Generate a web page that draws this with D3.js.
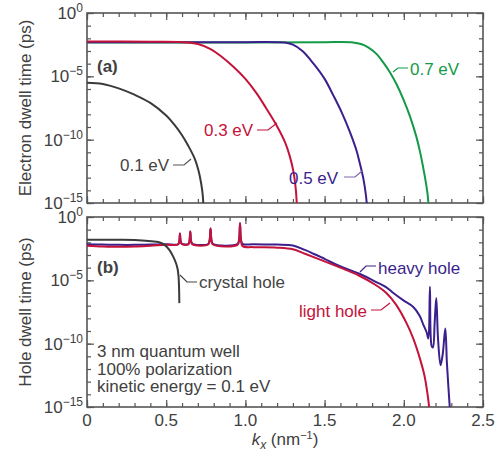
<!DOCTYPE html>
<html>
<head>
<meta charset="utf-8">
<script src="https://cdn.jsdelivr.net/npm/d3@7"></script>
<style>
  body { margin: 0; background: #fff; }
  text { font-family: "Liberation Sans", Arial, sans-serif; fill: #404040; }
</style>
</head>
<body>
<svg id="chart" width="503" height="456"></svg>
<script>
// values are [kx (nm^-1), log10 of dwell time (ps)]
const electron01 = [[0,-5.5],[0.1,-5.6],[0.2,-5.95],[0.3,-6.45],[0.4,-7.1],[0.5,-8.1],[0.55,-8.8],[0.6,-9.65],
  [0.64,-10.5],[0.68,-11.5],[0.703,-12.4],[0.72,-13.4],[0.73,-14.3],[0.734,-15]];
const electron03 = [[0,-2.25],[0.4,-2.27],[0.6,-2.3],[0.7,-2.45],[0.78,-2.85],[0.85,-3.45],[0.924,-4.24],[1.0,-5.2],
  [1.071,-6.35],[1.13,-7.5],[1.198,-8.9],[1.25,-10.2],[1.28,-11.3],[1.303,-12.5],[1.318,-13.9],[1.324,-15]];
const electron05 = [[0,-2.3],[1.0,-2.3],[1.2,-2.3],[1.25,-2.33],[1.3,-2.5],[1.36,-3.0],[1.43,-4.0],[1.5,-5.2],
  [1.555,-6.5],[1.61,-7.9],[1.66,-9.4],[1.7,-10.8],[1.723,-11.9],[1.745,-13.1],[1.76,-14.3],[1.766,-15]];
const electron07 = [[0,-2.32],[1.0,-2.32],[1.5,-2.3],[1.68,-2.32],[1.73,-2.45],[1.78,-2.75],[1.829,-3.25],[1.87,-3.9],
  [1.913,-4.7],[1.955,-5.65],[2.0,-6.9],[2.04,-8.2],[2.08,-9.8],[2.105,-11.1],[2.134,-13.0],[2.15,-14.3],[2.155,-15]];

const crystalHole = [[0,-1.8],[0.2,-1.8],[0.3,-1.82],[0.408,-1.92],[0.45,-1.98],[0.49,-2.2],[0.52,-2.6],[0.545,-3.15],
  [0.562,-3.65],[0.572,-4.1],[0.578,-4.7],[0.581,-5.5],[0.583,-6.8]];
const heavyHole = [[0,-2.16],[0.1,-2.18],[0.2,-2.2],[0.3,-2.2],[0.4,-2.17],[0.5,-2.15],
  [0.575,-2.15],[0.583,-1.9],[0.587,-1.3],[0.591,-1.9],[0.6,-2.12],
  [0.64,-2.13],[0.647,-1.9],[0.652,-1.15],[0.657,-1.9],[0.666,-2.12],
  [0.765,-2.13],[0.774,-1.85],[0.78,-0.9],[0.786,-1.85],[0.795,-2.12],
  [0.95,-2.14],[0.96,-1.8],[0.966,-0.5],[0.972,-1.8],[0.982,-2.12],
  [1.05,-2.16],[1.2,-2.18],[1.3,-2.25],[1.376,-2.6],[1.43,-2.9],[1.5,-3.3],[1.555,-3.65],[1.62,-4.0],
  [1.723,-4.5],[1.82,-5.1],[1.89,-5.55],[1.934,-6.0],[2.0,-6.6],[2.06,-7.1],[2.1,-7.8],[2.123,-8.5],
  [2.144,-9.1],[2.155,-9.6],[2.165,-5.5],[2.176,-10.2],[2.184,-10.3],[2.195,-8.3],[2.205,-6.4],[2.216,-9.6],
  [2.232,-11.7],[2.246,-10.8],[2.262,-8.8],[2.272,-11.5],[2.282,-13.5],[2.29,-15]];
const lightHole = [[0,-2.26],[0.1,-2.32],[0.2,-2.35],[0.3,-2.33],[0.4,-2.27],[0.5,-2.2],
  [0.575,-2.17],[0.583,-1.9],[0.587,-1.3],[0.591,-1.9],[0.6,-2.15],
  [0.64,-2.16],[0.647,-1.9],[0.652,-1.15],[0.657,-1.9],[0.666,-2.16],
  [0.765,-2.17],[0.774,-1.85],[0.78,-0.9],[0.786,-1.85],[0.795,-2.17],
  [0.95,-2.2],[0.96,-1.8],[0.966,-0.5],[0.972,-1.8],[0.982,-2.3],
  [1.05,-2.38],[1.2,-2.42],[1.3,-2.55],[1.376,-2.9],[1.5,-3.5],[1.62,-4.1],[1.713,-4.6],[1.82,-5.35],
  [1.89,-6.0],[1.95,-6.9],[2.018,-8.4],[2.06,-9.6],[2.1,-11.1],[2.13,-12.5],[2.15,-14],[2.16,-15]];

const xTicks = [0, 0.5, 1.0, 1.5, 2.0, 2.5];
const xTickLabels = ["0", "0.5", "1.0", "1.5", "2.0", "2.5"];
const yExponents = [0, -5, -10, -15];
const textBlock = ["3 nm quantum well", "100% polarization", "kinetic energy = 0.1 eV"];

const red = "#c4123a", blue = "#3b1f8c", green = "#139a48", dark = "#3a3a3a", frame = "#555";
const fs = 17;

const svg = d3.select("#chart");
const left = 87, right = 483;
const x = d3.scaleLinear().domain([0, 2.5]).range([left, right]);
const panels = [
  { top: 13, bottom: 203, name: "a" },
  { top: 217, bottom: 407, name: "b" }
];
panels.forEach(p => {
  p.y = d3.scaleLog().domain([1e-15, 1]).range([p.bottom, p.top]);
});

const line = y => d3.line()
  .x(d => x(d[0]))
  .y(d => y(Math.pow(10, d[1])))
  .curve(d3.curveCatmullRom.alpha(0.5));

function drawFrame(p) {
  const g = svg.append("g");
  const decades = d3.range(0, -16, -1).map(e => Math.pow(10, e));
  const majors = yExponents.map(e => Math.pow(10, e));
  const minorX = d3.range(0, 26).map(i => i / 10);

  // inward ticks on all four sides
  g.append("g").attr("transform", `translate(${left},0)`)
    .call(d3.axisRight(p.y).tickValues(decades).tickSize(4).tickFormat(""));
  g.append("g").attr("transform", `translate(${left},0)`)
    .call(d3.axisRight(p.y).tickValues(majors).tickSize(7).tickFormat(""));
  g.append("g").attr("transform", `translate(${right},0)`)
    .call(d3.axisLeft(p.y).tickValues(decades).tickSize(4).tickFormat(""));
  g.append("g").attr("transform", `translate(${right},0)`)
    .call(d3.axisLeft(p.y).tickValues(majors).tickSize(7).tickFormat(""));
  g.append("g").attr("transform", `translate(0,${p.bottom})`)
    .call(d3.axisTop(x).tickValues(minorX).tickSize(4).tickFormat(""));
  g.append("g").attr("transform", `translate(0,${p.bottom})`)
    .call(d3.axisTop(x).tickValues(xTicks).tickSize(7).tickFormat(""));
  g.append("g").attr("transform", `translate(0,${p.top})`)
    .call(d3.axisBottom(x).tickValues(minorX).tickSize(4).tickFormat(""));
  g.append("g").attr("transform", `translate(0,${p.top})`)
    .call(d3.axisBottom(x).tickValues(xTicks).tickSize(7).tickFormat(""));
  g.selectAll(".domain").remove();
  g.selectAll(".tick line").attr("stroke", frame).attr("stroke-width", 1.2);

  g.append("rect")
    .attr("x", left).attr("y", p.top)
    .attr("width", right - left).attr("height", p.bottom - p.top)
    .attr("fill", "none").attr("stroke", frame).attr("stroke-width", 1.6);

  // y tick labels 10^n
  yExponents.forEach(e => {
    const t = g.append("text")
      .attr("x", left - 4).attr("y", p.y(Math.pow(10, e)) + 6)
      .attr("text-anchor", "end").attr("font-size", fs);
    t.append("tspan").text("10");
    t.append("tspan").attr("font-size", 12).attr("dy", -7)
      .text(e === 0 ? "0" : "\u2212" + (-e));
  });

  svg.append("clipPath").attr("id", "clip" + p.name)
    .append("rect").attr("x", left).attr("y", p.top)
    .attr("width", right - left).attr("height", p.bottom - p.top);
}

panels.forEach(drawFrame);

function curve(p, data, color) {
  svg.append("path")
    .datum(data)
    .attr("clip-path", `url(#clip${p.name})`)
    .attr("fill", "none")
    .attr("stroke", color)
    .attr("stroke-width", 2)
    .attr("d", line(p.y));
}

function leader(pts, color) {
  svg.append("polyline")
    .attr("points", pts.map(d => d.join(",")).join(" "))
    .attr("fill", "none").attr("stroke", color).attr("stroke-width", 1.2);
}

function label(tx, ty, str, color, anchor) {
  svg.append("text").attr("x", tx).attr("y", ty)
    .attr("font-size", fs).attr("text-anchor", anchor || "start")
    .style("fill", color).text(str);
}

// panel (a)
const pa = panels[0], pb = panels[1];
curve(pa, electron07, green);
curve(pa, electron05, blue);
curve(pa, electron03, red);
curve(pa, electron01, dark);

label(120, 171, "0.1 eV", "#444");
leader([[173, 165], [184, 165], [191, 159]], "#555");
label(204, 136, "0.3 eV", red);
leader([[257, 130], [268, 130], [277, 123]], red);
label(289, 184, "0.5 eV", blue);
leader([[344, 177], [355, 177], [362, 171]], "#7a6aad");
label(410, 75, "0.7 eV", green);
leader([[393, 72], [398, 68], [408, 68]], green);

svg.append("text").attr("x", 97).attr("y", 72).attr("font-size", fs)
  .attr("font-weight", "bold").text("(a)");

// panel (b)
curve(pb, heavyHole, blue);
curve(pb, lightHole, red);
curve(pb, crystalHole, dark);

label(199, 288, "crystal hole", "#444");
leader([[180, 275], [187, 282], [197, 282]], "#444");
label(378, 274, "heavy hole", blue);
leader([[360, 272], [366, 266], [376, 266]], blue);
label(299, 317, "light hole", red);
leader([[371, 310], [381, 310], [390, 303]], red);

svg.append("text").attr("x", 97).attr("y", 273).attr("font-size", fs)
  .attr("font-weight", "bold").text("(b)");

textBlock.forEach((s, i) => {
  svg.append("text").attr("x", 97).attr("y", 357 + i * 17.5)
    .attr("font-size", fs).text(s);
});

// x tick labels
xTicks.forEach((v, i) => {
  svg.append("text").attr("x", x(v)).attr("y", 426)
    .attr("text-anchor", "middle").attr("font-size", fs).text(xTickLabels[i]);
});

// axis titles
const xt = svg.append("text").attr("x", 285).attr("y", 445)
  .attr("text-anchor", "middle").attr("font-size", fs);
xt.append("tspan").attr("font-style", "italic").text("k");
xt.append("tspan").attr("font-style", "italic").attr("font-size", 12).attr("dy", 4).text("x");
xt.append("tspan").attr("dy", -4).text(" (nm");
xt.append("tspan").attr("font-size", 11).attr("dy", -6).text("\u22121");
xt.append("tspan").attr("dy", 6).text(")");

svg.append("text")
  .attr("transform", `translate(31,${(pa.top + pa.bottom) / 2}) rotate(-90)`)
  .attr("text-anchor", "middle").attr("font-size", fs)
  .text("Electron dwell time (ps)");
svg.append("text")
  .attr("transform", `translate(31,${(pb.top + pb.bottom) / 2}) rotate(-90)`)
  .attr("text-anchor", "middle").attr("font-size", fs)
  .text("Hole dwell time (ps)");
</script>
</body>
</html>
